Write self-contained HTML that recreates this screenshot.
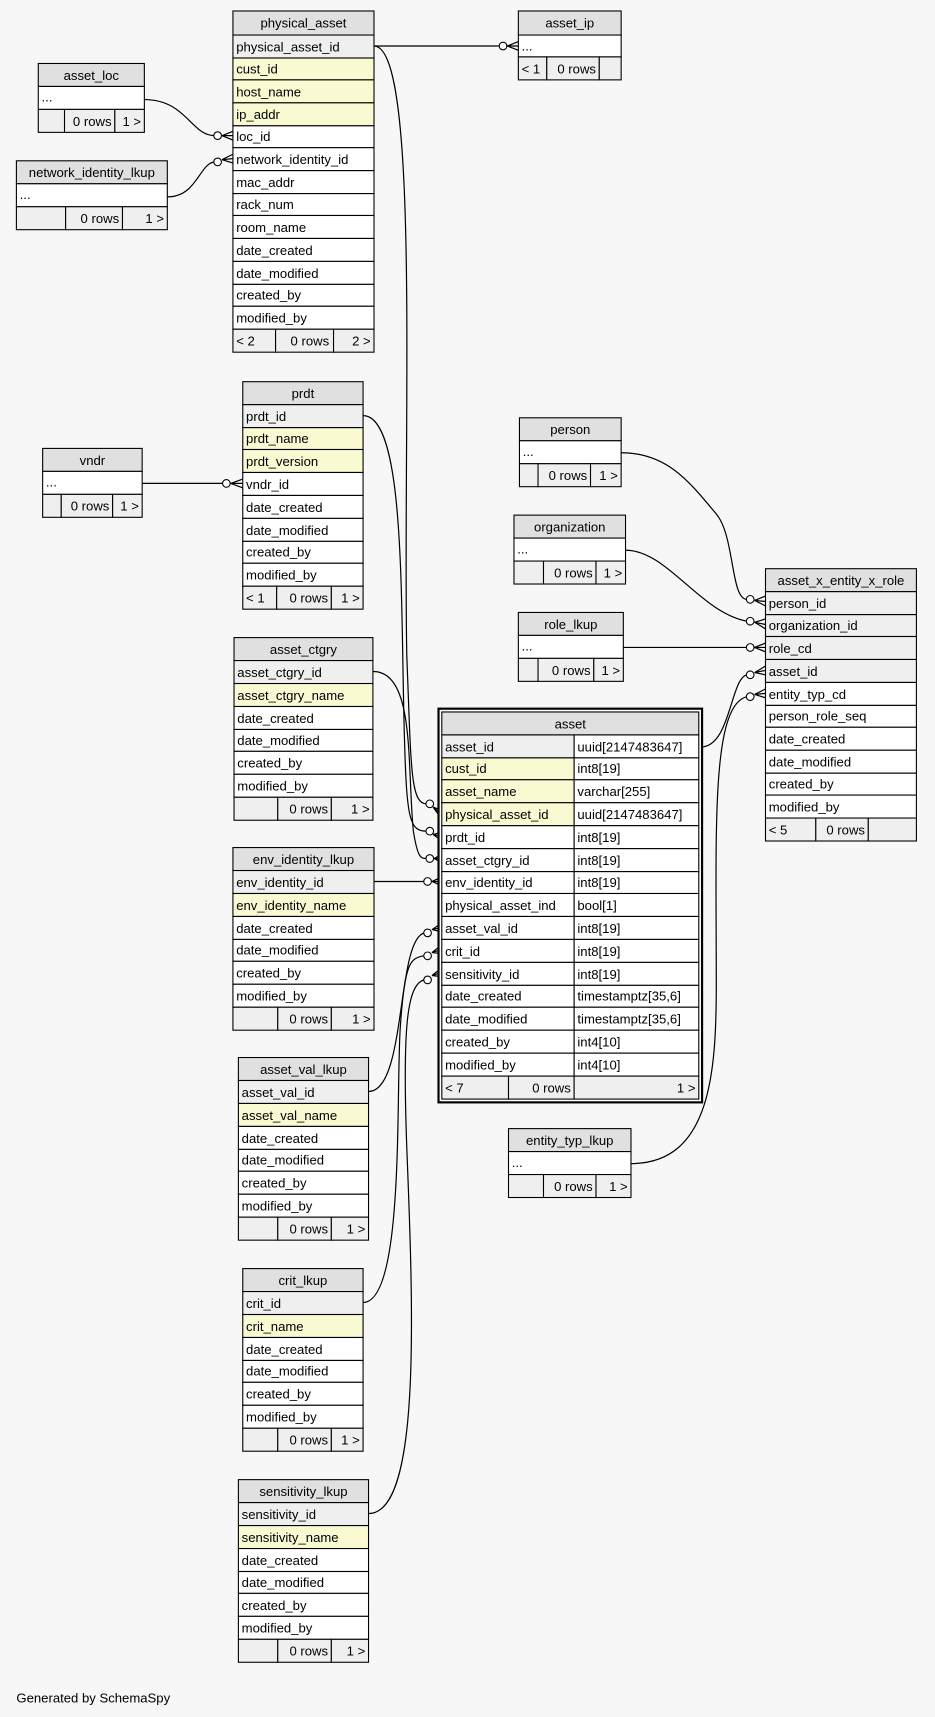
<!DOCTYPE html>
<html><head><meta charset="utf-8"><style>
html,body{margin:0;padding:0;background:#f7f7f7}
svg{display:block}
text{font-family:"Liberation Sans",Arial,sans-serif;font-size:12px;fill:#000}
rect{stroke:#000;stroke-width:1}
.h{fill:#e0e0e0}.k{fill:#efefef}.y{fill:#fafad2}.w{fill:#fff}
.e{fill:none;stroke:#000;stroke-width:1.1}
.c{fill:#fff;stroke:#000;stroke-width:1}
</style></head><body>
<svg width="935" height="1717" viewBox="0 0 855 1570" xmlns="http://www.w3.org/2000/svg">
<rect x="0" y="0" width="855" height="1570" style="fill:#f7f7f7;stroke:none"/>

<!-- edges -->
<g>
<path class="e" d="M342,42 L466,42"/><circle class="c" cx="460" cy="42" r="3.5"/><path class="e" d="M464,42 L474,38 M464,42 L474,42 M464,42 L474,46"/>
<path class="e" d="M132,91 C170,91 175,124 196,124"/><circle class="c" cx="199" cy="124" r="3.5"/><path class="e" d="M203,124 L213,120 M203,124 L213,124 M203,124 L213,128"/>
<path class="e" d="M153,180 C180,180 182,150 196,148"/><circle class="c" cx="199" cy="148" r="3.5"/><path class="e" d="M203,146 L213,141 M203,146 L213,145 M203,146 L213,149"/>
<path class="e" d="M130,442 L204,442"/><circle class="c" cx="207" cy="442" r="3.5"/><path class="e" d="M211,442 L222,438 M211,442 L222,442 M211,442 L222,446"/>
<path class="e" d="M342,42 C385,42 368,400 372,600 C376,700 375,735 390,735"/><circle class="c" cx="393" cy="735" r="3.5"/><path class="e" d="M396,738 L404,741 M396,738 L404,745 M396,738 L404,749"/>
<path class="e" d="M332,380 C372,380 366,560 370,680 C372,750 375,760 390,760"/><circle class="c" cx="393" cy="760" r="3.5"/><path class="e" d="M396,763 L404,761 M396,763 L404,765 M396,763 L404,769"/>
<path class="e" d="M341,614 C380,614 372,700 378,760 C382,785 385,785 390,785"/><circle class="c" cx="393" cy="785" r="3.5"/><path class="e" d="M397,785 L404,781 M397,785 L404,785 M397,785 L404,789"/>
<path class="e" d="M342,806 L388,806"/><circle class="c" cx="391" cy="806" r="3.5"/><path class="e" d="M395,806 L404,802 M395,806 L404,806 M395,806 L404,810"/>
<path class="e" d="M337,998 C372,998 362,860 388,853"/><circle class="c" cx="391" cy="853" r="3.5"/><path class="e" d="M395,850 L404,844 M395,850 L404,848 M395,850 L404,852"/>
<path class="e" d="M332,1191 C370,1191 362,1000 366,940 C370,880 375,876 388,874"/><circle class="c" cx="391" cy="874" r="3.5"/><path class="e" d="M395,871 L404,864 M395,871 L404,868 M395,871 L404,872"/>
<path class="e" d="M337,1384 C385,1384 378,1200 372,1050 C368,940 372,900 388,896"/><circle class="c" cx="391" cy="896" r="3.5"/><path class="e" d="M395,892 L404,885 M395,892 L404,889 M395,892 L404,893"/>
<path class="e" d="M568,414 C610,414 630,440 655,470 C672,490 668,548 683,548"/><circle class="c" cx="686" cy="548" r="3.5"/><path class="e" d="M690,549 L700,545 M690,549 L700,550 M690,549 L700,554"/>
<path class="e" d="M572,503 C610,503 640,560 683,568"/><circle class="c" cx="686" cy="568" r="3.5"/><path class="e" d="M690,569 L700,566 M690,569 L700,571 M690,569 L700,575"/>
<path class="e" d="M570,592 L683,592"/><circle class="c" cx="686" cy="592" r="3.5"/><path class="e" d="M690,592 L700,588 M690,592 L700,592 M690,592 L700,596"/>
<path class="e" d="M641,683 C668,683 668,620 683,617"/><circle class="c" cx="686" cy="617" r="3.5"/><path class="e" d="M690,615 L700,609 M690,615 L700,613 M690,615 L700,617"/>
<path class="e" d="M577,1064 C650,1064 655,980 655,900 C655,760 650,645 683,637"/><circle class="c" cx="686" cy="637" r="3.5"/><path class="e" d="M690,635 L700,630 M690,635 L700,634 M690,635 L700,638"/>
</g>

<!-- physical_asset -->
<g transform="translate(213,10)">
<rect class="h" x="0" y="0" width="129" height="22"/><text x="64.5" y="15" text-anchor="middle">physical_asset</text>
<rect class="k" x="0" y="22" width="129" height="21"/><text x="3" y="37">physical_asset_id</text>
<rect class="y" x="0" y="43" width="129" height="20"/><text x="3" y="57">cust_id</text>
<rect class="y" x="0" y="63" width="129" height="21"/><text x="3" y="78">host_name</text>
<rect class="y" x="0" y="84" width="129" height="21"/><text x="3" y="99">ip_addr</text>
<rect class="w" x="0" y="105" width="129" height="20"/><text x="3" y="119">loc_id</text>
<rect class="w" x="0" y="125" width="129" height="21"/><text x="3" y="140">network_identity_id</text>
<rect class="w" x="0" y="146" width="129" height="21"/><text x="3" y="161">mac_addr</text>
<rect class="w" x="0" y="167" width="129" height="20"/><text x="3" y="181">rack_num</text>
<rect class="w" x="0" y="187" width="129" height="21"/><text x="3" y="202">room_name</text>
<rect class="w" x="0" y="208" width="129" height="21"/><text x="3" y="223">date_created</text>
<rect class="w" x="0" y="229" width="129" height="21"/><text x="3" y="244">date_modified</text>
<rect class="w" x="0" y="250" width="129" height="20"/><text x="3" y="264">created_by</text>
<rect class="w" x="0" y="270" width="129" height="21"/><text x="3" y="285">modified_by</text>
<rect class="k" x="0" y="291" width="39" height="21"/><rect class="k" x="39" y="291" width="53" height="21"/><rect class="k" x="92" y="291" width="37" height="21"/>
<text x="3" y="306">&lt; 2</text><text x="88" y="306" text-anchor="end">0 rows</text><text x="126" y="306" text-anchor="end">2 &gt;</text>
</g>

<!-- asset_ip -->
<g transform="translate(474,10)">
<rect class="h" x="0" y="0" width="94" height="22"/><text x="47" y="15" text-anchor="middle">asset_ip</text>
<rect class="w" x="0" y="22" width="94" height="20"/><text x="3" y="36">...</text>
<rect class="k" x="0" y="42" width="26" height="21"/><rect class="k" x="26" y="42" width="48" height="21"/><rect class="k" x="74" y="42" width="20" height="21"/>
<text x="3" y="57">&lt; 1</text><text x="71" y="57" text-anchor="end">0 rows</text>
</g>

<!-- asset_loc -->
<g transform="translate(35,58)">
<rect class="h" x="0" y="0" width="97" height="21"/><text x="48.5" y="15" text-anchor="middle">asset_loc</text>
<rect class="w" x="0" y="21" width="97" height="21"/><text x="3" y="35">...</text>
<rect class="k" x="0" y="42" width="24" height="21"/><rect class="k" x="24" y="42" width="46" height="21"/><rect class="k" x="70" y="42" width="27" height="21"/>
<text x="67" y="57" text-anchor="end">0 rows</text><text x="94" y="57" text-anchor="end">1 &gt;</text>
</g>

<!-- network_identity_lkup -->
<g transform="translate(15,147)">
<rect class="h" x="0" y="0" width="138" height="21"/><text x="69" y="15" text-anchor="middle">network_identity_lkup</text>
<rect class="w" x="0" y="21" width="138" height="21"/><text x="3" y="35">...</text>
<rect class="k" x="0" y="42" width="45" height="21"/><rect class="k" x="45" y="42" width="52" height="21"/><rect class="k" x="97" y="42" width="41" height="21"/>
<text x="94" y="57" text-anchor="end">0 rows</text><text x="135" y="57" text-anchor="end">1 &gt;</text>
</g>

<!-- prdt -->
<g transform="translate(222,349)">
<rect class="h" x="0" y="0" width="110" height="21"/><text x="55" y="15" text-anchor="middle">prdt</text>
<rect class="k" x="0" y="21" width="110" height="21"/><text x="3" y="36">prdt_id</text>
<rect class="y" x="0" y="42" width="110" height="20"/><text x="3" y="56">prdt_name</text>
<rect class="y" x="0" y="62" width="110" height="21"/><text x="3" y="77">prdt_version</text>
<rect class="w" x="0" y="83" width="110" height="21"/><text x="3" y="98">vndr_id</text>
<rect class="w" x="0" y="104" width="110" height="21"/><text x="3" y="119">date_created</text>
<rect class="w" x="0" y="125" width="110" height="21"/><text x="3" y="140">date_modified</text>
<rect class="w" x="0" y="146" width="110" height="20"/><text x="3" y="160">created_by</text>
<rect class="w" x="0" y="166" width="110" height="21"/><text x="3" y="181">modified_by</text>
<rect class="k" x="0" y="187" width="31" height="21"/><rect class="k" x="31" y="187" width="50" height="21"/><rect class="k" x="81" y="187" width="29" height="21"/>
<text x="3" y="202">&lt; 1</text><text x="78" y="202" text-anchor="end">0 rows</text><text x="107" y="202" text-anchor="end">1 &gt;</text>
</g>

<!-- vndr -->
<g transform="translate(39,410)">
<rect class="h" x="0" y="0" width="91" height="21"/><text x="45.5" y="15" text-anchor="middle">vndr</text>
<rect class="w" x="0" y="21" width="91" height="21"/><text x="3" y="35">...</text>
<rect class="k" x="0" y="42" width="17" height="21"/><rect class="k" x="17" y="42" width="47" height="21"/><rect class="k" x="64" y="42" width="27" height="21"/>
<text x="61" y="57" text-anchor="end">0 rows</text><text x="88" y="57" text-anchor="end">1 &gt;</text>
</g>

<!-- asset_ctgry -->
<g transform="translate(214,583)">
<rect class="h" x="0" y="0" width="127" height="21"/><text x="63.5" y="15" text-anchor="middle">asset_ctgry</text>
<rect class="k" x="0" y="21" width="127" height="21"/><text x="3" y="36">asset_ctgry_id</text>
<rect class="y" x="0" y="42" width="127" height="21"/><text x="3" y="57">asset_ctgry_name</text>
<rect class="w" x="0" y="63" width="127" height="21"/><text x="3" y="78">date_created</text>
<rect class="w" x="0" y="84" width="127" height="20"/><text x="3" y="98">date_modified</text>
<rect class="w" x="0" y="104" width="127" height="21"/><text x="3" y="119">created_by</text>
<rect class="w" x="0" y="125" width="127" height="21"/><text x="3" y="140">modified_by</text>
<rect class="k" x="0" y="146" width="40" height="21"/><rect class="k" x="40" y="146" width="49" height="21"/><rect class="k" x="89" y="146" width="38" height="21"/>
<text x="86" y="161" text-anchor="end">0 rows</text><text x="124" y="161" text-anchor="end">1 &gt;</text>
</g>

<!-- env_identity_lkup -->
<g transform="translate(213,775)">
<rect class="h" x="0" y="0" width="129" height="21"/><text x="64.5" y="15" text-anchor="middle">env_identity_lkup</text>
<rect class="k" x="0" y="21" width="129" height="21"/><text x="3" y="36">env_identity_id</text>
<rect class="y" x="0" y="42" width="129" height="21"/><text x="3" y="57">env_identity_name</text>
<rect class="w" x="0" y="63" width="129" height="21"/><text x="3" y="78">date_created</text>
<rect class="w" x="0" y="84" width="129" height="20"/><text x="3" y="98">date_modified</text>
<rect class="w" x="0" y="104" width="129" height="21"/><text x="3" y="119">created_by</text>
<rect class="w" x="0" y="125" width="129" height="21"/><text x="3" y="140">modified_by</text>
<rect class="k" x="0" y="146" width="41" height="21"/><rect class="k" x="41" y="146" width="49" height="21"/><rect class="k" x="90" y="146" width="39" height="21"/>
<text x="87" y="161" text-anchor="end">0 rows</text><text x="126" y="161" text-anchor="end">1 &gt;</text>
</g>

<!-- asset_val_lkup -->
<g transform="translate(218,967)">
<rect class="h" x="0" y="0" width="119" height="21"/><text x="59.5" y="15" text-anchor="middle">asset_val_lkup</text>
<rect class="k" x="0" y="21" width="119" height="21"/><text x="3" y="36">asset_val_id</text>
<rect class="y" x="0" y="42" width="119" height="21"/><text x="3" y="57">asset_val_name</text>
<rect class="w" x="0" y="63" width="119" height="21"/><text x="3" y="78">date_created</text>
<rect class="w" x="0" y="84" width="119" height="20"/><text x="3" y="98">date_modified</text>
<rect class="w" x="0" y="104" width="119" height="21"/><text x="3" y="119">created_by</text>
<rect class="w" x="0" y="125" width="119" height="21"/><text x="3" y="140">modified_by</text>
<rect class="k" x="0" y="146" width="36" height="21"/><rect class="k" x="36" y="146" width="49" height="21"/><rect class="k" x="85" y="146" width="34" height="21"/>
<text x="82" y="161" text-anchor="end">0 rows</text><text x="116" y="161" text-anchor="end">1 &gt;</text>
</g>

<!-- crit_lkup -->
<g transform="translate(222,1160)">
<rect class="h" x="0" y="0" width="110" height="21"/><text x="55" y="15" text-anchor="middle">crit_lkup</text>
<rect class="k" x="0" y="21" width="110" height="21"/><text x="3" y="36">crit_id</text>
<rect class="y" x="0" y="42" width="110" height="21"/><text x="3" y="57">crit_name</text>
<rect class="w" x="0" y="63" width="110" height="21"/><text x="3" y="78">date_created</text>
<rect class="w" x="0" y="84" width="110" height="20"/><text x="3" y="98">date_modified</text>
<rect class="w" x="0" y="104" width="110" height="21"/><text x="3" y="119">created_by</text>
<rect class="w" x="0" y="125" width="110" height="21"/><text x="3" y="140">modified_by</text>
<rect class="k" x="0" y="146" width="32" height="21"/><rect class="k" x="32" y="146" width="49" height="21"/><rect class="k" x="81" y="146" width="29" height="21"/>
<text x="78" y="161" text-anchor="end">0 rows</text><text x="107" y="161" text-anchor="end">1 &gt;</text>
</g>

<!-- sensitivity_lkup -->
<g transform="translate(218,1353)">
<rect class="h" x="0" y="0" width="119" height="21"/><text x="59.5" y="15" text-anchor="middle">sensitivity_lkup</text>
<rect class="k" x="0" y="21" width="119" height="21"/><text x="3" y="36">sensitivity_id</text>
<rect class="y" x="0" y="42" width="119" height="21"/><text x="3" y="57">sensitivity_name</text>
<rect class="w" x="0" y="63" width="119" height="21"/><text x="3" y="78">date_created</text>
<rect class="w" x="0" y="84" width="119" height="20"/><text x="3" y="98">date_modified</text>
<rect class="w" x="0" y="104" width="119" height="21"/><text x="3" y="119">created_by</text>
<rect class="w" x="0" y="125" width="119" height="21"/><text x="3" y="140">modified_by</text>
<rect class="k" x="0" y="146" width="36" height="21"/><rect class="k" x="36" y="146" width="49" height="21"/><rect class="k" x="85" y="146" width="34" height="21"/>
<text x="82" y="161" text-anchor="end">0 rows</text><text x="116" y="161" text-anchor="end">1 &gt;</text>
</g>

<!-- person -->
<g transform="translate(475,382)">
<rect class="h" x="0" y="0" width="93" height="21"/><text x="46.5" y="15" text-anchor="middle">person</text>
<rect class="w" x="0" y="21" width="93" height="21"/><text x="3" y="35">...</text>
<rect class="k" x="0" y="42" width="17" height="21"/><rect class="k" x="17" y="42" width="48" height="21"/><rect class="k" x="65" y="42" width="28" height="21"/>
<text x="62" y="57" text-anchor="end">0 rows</text><text x="90" y="57" text-anchor="end">1 &gt;</text>
</g>

<!-- organization -->
<g transform="translate(470,471)">
<rect class="h" x="0" y="0" width="102" height="21"/><text x="51" y="15" text-anchor="middle">organization</text>
<rect class="w" x="0" y="21" width="102" height="21"/><text x="3" y="35">...</text>
<rect class="k" x="0" y="42" width="27" height="21"/><rect class="k" x="27" y="42" width="48" height="21"/><rect class="k" x="75" y="42" width="27" height="21"/>
<text x="72" y="57" text-anchor="end">0 rows</text><text x="99" y="57" text-anchor="end">1 &gt;</text>
</g>

<!-- role_lkup -->
<g transform="translate(474,560)">
<rect class="h" x="0" y="0" width="96" height="21"/><text x="48" y="15" text-anchor="middle">role_lkup</text>
<rect class="w" x="0" y="21" width="96" height="21"/><text x="3" y="35">...</text>
<rect class="k" x="0" y="42" width="18" height="21"/><rect class="k" x="18" y="42" width="51" height="21"/><rect class="k" x="69" y="42" width="27" height="21"/>
<text x="66" y="57" text-anchor="end">0 rows</text><text x="93" y="57" text-anchor="end">1 &gt;</text>
</g>

<!-- entity_typ_lkup -->
<g transform="translate(465,1032)">
<rect class="h" x="0" y="0" width="112" height="21"/><text x="56" y="15" text-anchor="middle">entity_typ_lkup</text>
<rect class="w" x="0" y="21" width="112" height="21"/><text x="3" y="35">...</text>
<rect class="k" x="0" y="42" width="32" height="21"/><rect class="k" x="32" y="42" width="48" height="21"/><rect class="k" x="80" y="42" width="32" height="21"/>
<text x="77" y="57" text-anchor="end">0 rows</text><text x="109" y="57" text-anchor="end">1 &gt;</text>
</g>

<!-- asset_x_entity_x_role -->
<g transform="translate(700,520)">
<rect class="h" x="0" y="0" width="138" height="21"/><text x="69" y="15" text-anchor="middle">asset_x_entity_x_role</text>
<rect class="k" x="0" y="21" width="138" height="21"/><text x="3" y="36">person_id</text>
<rect class="k" x="0" y="42" width="138" height="20"/><text x="3" y="56">organization_id</text>
<rect class="k" x="0" y="62" width="138" height="21"/><text x="3" y="77">role_cd</text>
<rect class="k" x="0" y="83" width="138" height="21"/><text x="3" y="98">asset_id</text>
<rect class="w" x="0" y="104" width="138" height="21"/><text x="3" y="119">entity_typ_cd</text>
<rect class="w" x="0" y="125" width="138" height="20"/><text x="3" y="139">person_role_seq</text>
<rect class="w" x="0" y="145" width="138" height="21"/><text x="3" y="160">date_created</text>
<rect class="w" x="0" y="166" width="138" height="21"/><text x="3" y="181">date_modified</text>
<rect class="w" x="0" y="187" width="138" height="20"/><text x="3" y="201">created_by</text>
<rect class="w" x="0" y="207" width="138" height="21"/><text x="3" y="222">modified_by</text>
<rect class="k" x="0" y="228" width="46" height="21"/><rect class="k" x="46" y="228" width="48" height="21"/><rect class="k" x="94" y="228" width="44" height="21"/>
<text x="3" y="243">&lt; 5</text><text x="91" y="243" text-anchor="end">0 rows</text>
</g>

<!-- asset -->
<rect x="401" y="648" width="241" height="360" style="fill:#fff;stroke:#000;stroke-width:2"/>
<g transform="translate(404,651)">
<rect class="h" x="0" y="0" width="235" height="21"/><text x="117.5" y="15" text-anchor="middle">asset</text>
<rect class="k" x="0" y="21" width="121" height="21"/><rect class="w" x="121" y="21" width="114" height="21"/><text x="3" y="36">asset_id</text><text x="124" y="36">uuid[2147483647]</text>
<rect class="y" x="0" y="42" width="121" height="20"/><rect class="w" x="121" y="42" width="114" height="20"/><text x="3" y="56">cust_id</text><text x="124" y="56">int8[19]</text>
<rect class="y" x="0" y="62" width="121" height="21"/><rect class="w" x="121" y="62" width="114" height="21"/><text x="3" y="77">asset_name</text><text x="124" y="77">varchar[255]</text>
<rect class="y" x="0" y="83" width="121" height="21"/><rect class="w" x="121" y="83" width="114" height="21"/><text x="3" y="98">physical_asset_id</text><text x="124" y="98">uuid[2147483647]</text>
<rect class="w" x="0" y="104" width="121" height="21"/><rect class="w" x="121" y="104" width="114" height="21"/><text x="3" y="119">prdt_id</text><text x="124" y="119">int8[19]</text>
<rect class="w" x="0" y="125" width="121" height="21"/><rect class="w" x="121" y="125" width="114" height="21"/><text x="3" y="140">asset_ctgry_id</text><text x="124" y="140">int8[19]</text>
<rect class="w" x="0" y="146" width="121" height="20"/><rect class="w" x="121" y="146" width="114" height="20"/><text x="3" y="160">env_identity_id</text><text x="124" y="160">int8[19]</text>
<rect class="w" x="0" y="166" width="121" height="21"/><rect class="w" x="121" y="166" width="114" height="21"/><text x="3" y="181">physical_asset_ind</text><text x="124" y="181">bool[1]</text>
<rect class="w" x="0" y="187" width="121" height="21"/><rect class="w" x="121" y="187" width="114" height="21"/><text x="3" y="202">asset_val_id</text><text x="124" y="202">int8[19]</text>
<rect class="w" x="0" y="208" width="121" height="21"/><rect class="w" x="121" y="208" width="114" height="21"/><text x="3" y="223">crit_id</text><text x="124" y="223">int8[19]</text>
<rect class="w" x="0" y="229" width="121" height="21"/><rect class="w" x="121" y="229" width="114" height="21"/><text x="3" y="244">sensitivity_id</text><text x="124" y="244">int8[19]</text>
<rect class="w" x="0" y="250" width="121" height="20"/><rect class="w" x="121" y="250" width="114" height="20"/><text x="3" y="264">date_created</text><text x="124" y="264">timestamptz[35,6]</text>
<rect class="w" x="0" y="270" width="121" height="21"/><rect class="w" x="121" y="270" width="114" height="21"/><text x="3" y="285">date_modified</text><text x="124" y="285">timestamptz[35,6]</text>
<rect class="w" x="0" y="291" width="121" height="21"/><rect class="w" x="121" y="291" width="114" height="21"/><text x="3" y="306">created_by</text><text x="124" y="306">int4[10]</text>
<rect class="w" x="0" y="312" width="121" height="21"/><rect class="w" x="121" y="312" width="114" height="21"/><text x="3" y="327">modified_by</text><text x="124" y="327">int4[10]</text>
<rect class="k" x="0" y="333" width="61" height="21"/><rect class="k" x="61" y="333" width="60" height="21"/><rect class="k" x="121" y="333" width="114" height="21"/>
<text x="3" y="348">&lt; 7</text><text x="118" y="348" text-anchor="end">0 rows</text><text x="232" y="348" text-anchor="end">1 &gt;</text>
</g>

<text x="15" y="1557">Generated by SchemaSpy</text>
</svg>
</body></html>
